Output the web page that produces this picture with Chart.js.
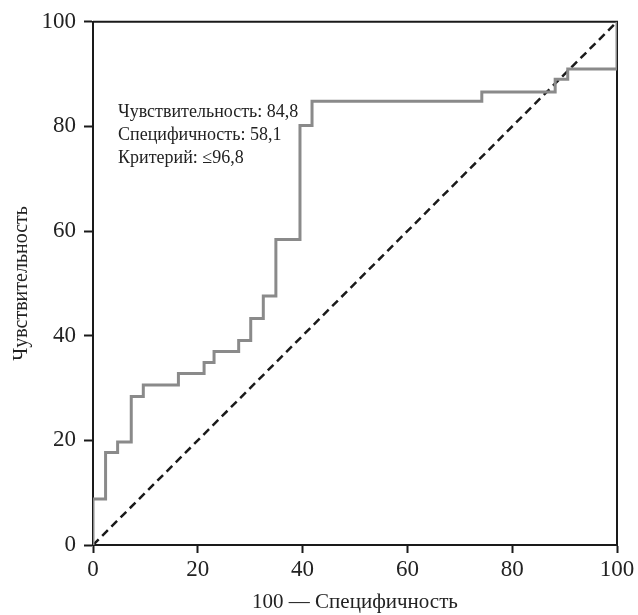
<!DOCTYPE html>
<html>
<head>
<meta charset="utf-8">
<script src="https://cdn.jsdelivr.net/npm/chart.js@4"></script>
<style>
  html, body { margin: 0; padding: 0; background: #fff; }
  #wrap { width: 638px; height: 615px; }
</style>
</head>
<body>
<div id="wrap"><canvas id="roc"></canvas></div>
<script>
// ROC curve points: 100 - specificity (x) and sensitivity (y)
const fpr = [0, 0, 2.4, 4.7, 7.3, 9.6, 16.3, 21.2, 23.1, 27.8, 30.1, 32.5, 34.9, 39.5, 41.8, 74.2, 88.2, 90.6, 100];
const tpr = [0, 8.8, 17.7, 19.7, 28.4, 30.6, 32.8, 34.9, 37.0, 39.1, 43.3, 47.6, 58.4, 80.2, 84.8, 86.6, 89.0, 91.0, 100];
const diagX = [0, 100];
const diagY = [0, 100];
const tickValues = [0, 20, 40, 60, 80, 100];
const notes = ['Чувствительность: 84,8', 'Специфичность: 58,1', 'Критерий: ≤96,8'];

const FONT = '"Liberation Serif", "DejaVu Serif", serif';

const frame = {
    id: 'frame',
    // top/right border under the curve, so the gray step sits on top of it
    beforeDatasetsDraw(chart) {
        const { ctx, chartArea: a } = chart;
        ctx.save();
        ctx.strokeStyle = '#1a1a1a';
        ctx.lineWidth = 2;
        ctx.beginPath();
        ctx.moveTo(a.left, a.top);
        ctx.lineTo(a.right, a.top);
        ctx.lineTo(a.right, a.bottom);
        ctx.stroke();
        ctx.restore();
    },
    afterDraw(chart) {
        const { ctx, chartArea: a } = chart;
        ctx.save();
        ctx.fillStyle = '#222';
        ctx.font = '18px ' + FONT;
        ctx.textBaseline = 'alphabetic';
        notes.forEach((t, i) => ctx.fillText(t, a.left + 25, a.top + 95 + i * 23));
        ctx.restore();
    }
};

new Chart(document.getElementById('roc'), {
    type: 'line',
    data: {
        datasets: [{
            data: fpr.map((x, i) => ({ x, y: tpr[i] })),
            borderColor: '#8a8a8a',
            borderWidth: 3,
            stepped: 'before',
            pointRadius: 0,
            fill: false
        }, {
            data: diagX.map((x, i) => ({ x, y: diagY[i] })),
            borderColor: '#1a1a1a',
            borderWidth: 2.5,
            borderDash: [8, 5],
            pointRadius: 0,
            fill: false
        }]
    },
    options: {
        responsive: true,
        maintainAspectRatio: false,
        animation: false,
        layout: { padding: { top: 20, right: 21, left: 0, bottom: 0 } },
        plugins: {
            legend: { display: false },
            tooltip: { enabled: false }
        },
        scales: {
            x: {
                type: 'linear',
                min: 0,
                max: 100,
                afterBuildTicks: s => { s.ticks = tickValues.map(v => ({ value: v })); },
                afterFit: s => { s.height = 70; },
                grid: { drawOnChartArea: false, drawTicks: true, tickLength: 8, tickColor: '#1a1a1a', tickWidth: 2 },
                border: { display: true, color: '#1a1a1a', width: 2 },
                ticks: { color: '#222', padding: 3, maxRotation: 0, font: { family: FONT, size: 23 } },
                title: {
                    display: true,
                    text: '100 — Специфичность',
                    color: '#222',
                    padding: { top: 2, bottom: 0 },
                    font: { family: FONT, size: 21 }
                }
            },
            y: {
                type: 'linear',
                min: 0,
                max: 100,
                afterBuildTicks: s => { s.ticks = tickValues.map(v => ({ value: v })); },
                afterFit: s => { s.width = 93; },
                grid: { drawOnChartArea: false, drawTicks: true, tickLength: 9, tickColor: '#1a1a1a', tickWidth: 2 },
                border: { display: true, color: '#1a1a1a', width: 2 },
                ticks: { color: '#222', padding: 8, font: { family: FONT, size: 23 } },
                title: {
                    display: true,
                    text: 'Чувствительность',
                    color: '#222',
                    padding: { top: 10, bottom: 0 },
                    font: { family: FONT, size: 20 }
                }
            }
        }
    },
    plugins: [frame]
});
</script>
</body>
</html>
